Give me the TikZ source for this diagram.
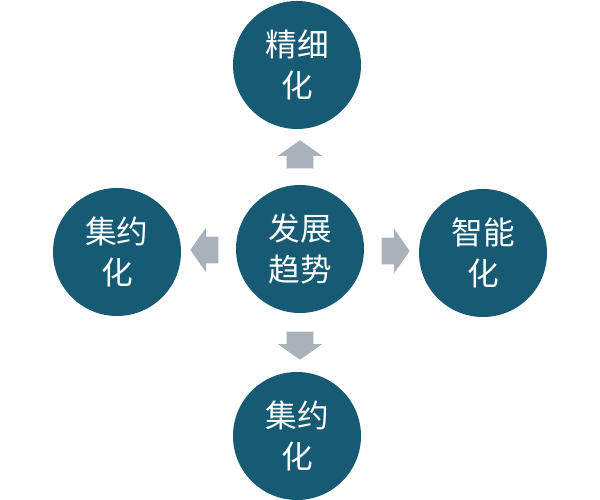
\documentclass[tikz,border=0pt]{standalone}
\usepackage{fontspec}
\newfontfamily\cjk{Noto Sans CJK SC}
\usetikzlibrary{shapes.arrows}
\definecolor{teal}{HTML}{175A73}
\definecolor{arrowgray}{HTML}{A9B2BB}
\tikzset{
  trend/.style={circle, fill=teal, minimum size=2.56cm, inner sep=0pt,
    text=white, align=center, font=\cjk\fontsize{18}{23}\selectfont},
  pointer/.style={single arrow, fill=arrowgray, minimum height=0.56cm,
    inner xsep=0pt, inner ysep=0.26cm, single arrow head extend=0.18cm,
    single arrow tip angle=110}
}
\begin{document}
\begin{tikzpicture}
    \useasboundingbox (0,0) rectangle (12,10);
    \fill[white] (0,0) rectangle (12,10);

    \node[trend] (center) at (6.0,5.02) {发展\\趋势};
    \node[trend] (top) at (5.94,8.7) {精细\\化};
    \node[trend] (left) at (2.34,4.96) {集约\\化};
    \node[trend] (right) at (9.66,4.94) {智能\\化};
    \node[trend] (bottom) at (5.94,1.28) {集约\\化};

    \node[pointer, rotate=90] (up) at (6.0,6.82) {};
    \node[pointer, rotate=180] (west) at (4.18,5.0) {};
    \node[pointer] (east) at (7.82,4.98) {};
    \node[pointer, rotate=-90] (down) at (6.0,3.18) {};
\end{tikzpicture}
\end{document}
